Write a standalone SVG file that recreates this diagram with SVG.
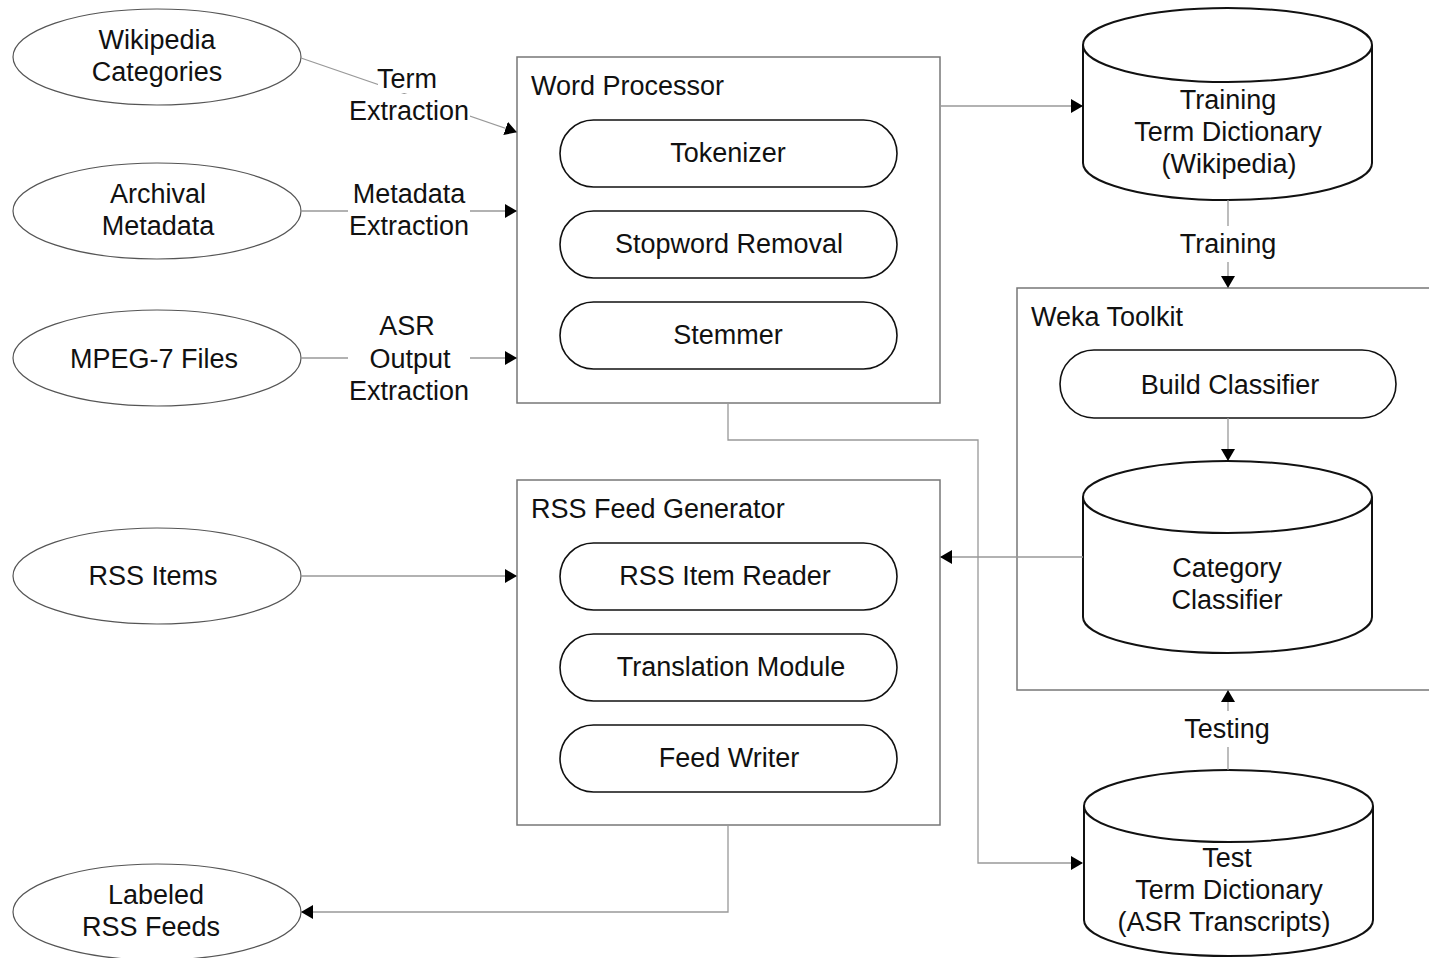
<svg xmlns="http://www.w3.org/2000/svg" width="1429" height="958" viewBox="0 0 1429 958">
<defs>
<style>
text{font-family:"Liberation Sans",Arial,sans-serif;font-size:27px;fill:#111;}
.c{text-anchor:middle;}
.ell{fill:#fff;stroke:#555;stroke-width:1.2;}
.box{fill:#fff;stroke:#777;stroke-width:1.5;}
.pill{fill:#fff;stroke:#111;stroke-width:1.6;}
.cyl{fill:#fff;stroke:#111;stroke-width:2;}
.con{fill:none;stroke:#999;stroke-width:1.3;}
.lbl{fill:#fff;stroke:none;}
</style>
<marker id="ah" markerWidth="12" markerHeight="14" refX="11" refY="7" orient="auto" markerUnits="userSpaceOnUse">
<path d="M0,0 L12,7 L0,14 Z" fill="#000"/>
</marker>
</defs>
<rect width="1429" height="958" fill="#fff"/>

<g id="wikipedia-categories">
<ellipse class="ell" cx="157" cy="57" rx="144" ry="48"/>
<text class="c" x="157" y="49">Wikipedia</text>
<text class="c" x="157" y="81">Categories</text>
</g>
<g id="archival-metadata">
<ellipse class="ell" cx="157" cy="211" rx="144" ry="48"/>
<text class="c" x="158" y="203">Archival</text>
<text class="c" x="158" y="235">Metadata</text>
</g>
<g id="mpeg7-files">
<ellipse class="ell" cx="157" cy="358" rx="144" ry="48"/>
<text class="c" x="154" y="368">MPEG-7 Files</text>
</g>
<g id="rss-items">
<ellipse class="ell" cx="157" cy="576" rx="144" ry="48"/>
<text class="c" x="153" y="585">RSS Items</text>
</g>
<g id="labeled-rss-feeds">
<ellipse class="ell" cx="157" cy="912" rx="144" ry="48"/>
<text class="c" x="156" y="904">Labeled</text>
<text class="c" x="151" y="936">RSS Feeds</text>
</g>

<g id="word-processor">
<rect class="box" x="517" y="57" width="423" height="346"/>
<text x="531" y="95">Word Processor</text>
<g id="tokenizer">
<rect class="pill" x="560" y="120" width="337" height="67" rx="33.5"/>
<text class="c" x="728" y="162">Tokenizer</text>
</g>
<g id="stopword-removal">
<rect class="pill" x="560" y="211" width="337" height="67" rx="33.5"/>
<text class="c" x="729" y="253">Stopword Removal</text>
</g>
<g id="stemmer">
<rect class="pill" x="560" y="302" width="337" height="67" rx="33.5"/>
<text class="c" x="728" y="344">Stemmer</text>
</g>
</g>

<g id="rss-feed-generator">
<rect class="box" x="517" y="480" width="423" height="345"/>
<text x="531" y="518">RSS Feed Generator</text>
<g id="rss-item-reader">
<rect class="pill" x="560" y="543" width="337" height="67" rx="33.5"/>
<text class="c" x="725" y="585">RSS Item Reader</text>
</g>
<g id="translation-module">
<rect class="pill" x="560" y="634" width="337" height="67" rx="33.5"/>
<text class="c" x="731" y="676">Translation Module</text>
</g>
<g id="feed-writer">
<rect class="pill" x="560" y="725" width="337" height="67" rx="33.5"/>
<text class="c" x="729" y="767">Feed Writer</text>
</g>
</g>

<g id="training-term-dictionary">
<path class="cyl" d="M1083,45 A144.5,37 0 0 1 1372,45 V163 A144.5,37 0 0 1 1083,163 Z"/>
<path class="cyl" fill="none" d="M1083,45 A144.5,37 0 0 0 1372,45"/>
<text class="c" x="1228" y="109">Training</text>
<text class="c" x="1228" y="141">Term Dictionary</text>
<text class="c" x="1229" y="173">(Wikipedia)</text>
</g>

<g id="weka-toolkit">
<rect class="box" x="1017" y="288" width="450" height="402"/>
<text x="1031" y="326">Weka Toolkit</text>
<g id="build-classifier">
<rect class="pill" x="1060" y="350" width="336" height="68" rx="34"/>
<text class="c" x="1230" y="394">Build Classifier</text>
</g>
<g id="category-classifier">
<path class="cyl" d="M1083,497 A144.5,36 0 0 1 1372,497 V617 A144.5,36 0 0 1 1083,617 Z"/>
<path class="cyl" fill="none" d="M1083,497 A144.5,36 0 0 0 1372,497"/>
<text class="c" x="1227" y="577">Category</text>
<text class="c" x="1227" y="609">Classifier</text>
</g>
</g>

<g id="test-term-dictionary">
<path class="cyl" d="M1084,806 A144.5,36 0 0 1 1373,806 V920 A144.5,36 0 0 1 1084,920 Z"/>
<path class="cyl" fill="none" d="M1084,806 A144.5,36 0 0 0 1373,806"/>
<text class="c" x="1227" y="867">Test</text>
<text class="c" x="1229" y="899">Term Dictionary</text>
<text class="c" x="1224" y="931">(ASR Transcripts)</text>
</g>

<g id="connectors">
<line class="con" x1="301" y1="58" x2="516" y2="132" marker-end="url(#ah)"/>
<line class="con" x1="301" y1="211" x2="516" y2="211" marker-end="url(#ah)"/>
<line class="con" x1="301" y1="358" x2="516" y2="358" marker-end="url(#ah)"/>
<line class="con" x1="301" y1="576" x2="516" y2="576" marker-end="url(#ah)"/>
<line class="con" x1="940" y1="106" x2="1082" y2="106" marker-end="url(#ah)"/>
<line class="con" x1="1228" y1="200" x2="1228" y2="287" marker-end="url(#ah)"/>
<line class="con" x1="1228" y1="418" x2="1228" y2="460" marker-end="url(#ah)"/>
<line class="con" x1="1083" y1="557" x2="941" y2="557" marker-end="url(#ah)"/>
<line class="con" x1="1228" y1="770" x2="1228" y2="691" marker-end="url(#ah)"/>
<polyline class="con" points="728,403 728,440 978,440 978,863 1082,863" marker-end="url(#ah)"/>
<polyline class="con" points="728,825 728,912 302,912" marker-end="url(#ah)"/>
<rect class="lbl" x="378" y="63" width="60" height="30"/>
<rect class="lbl" x="348" y="94" width="122" height="32"/>
<text class="c" x="407" y="88">Term</text>
<text class="c" x="409" y="120">Extraction</text>
<rect class="lbl" x="348" y="177" width="122" height="64"/>
<text class="c" x="409" y="203">Metadata</text>
<text class="c" x="409" y="235">Extraction</text>
<rect class="lbl" x="348" y="310" width="122" height="96"/>
<text class="c" x="407" y="335">ASR</text>
<text class="c" x="410" y="368">Output</text>
<text class="c" x="409" y="400">Extraction</text>
<rect class="lbl" x="1178" y="226" width="100" height="36"/>
<text class="c" x="1228" y="253">Training</text>
<rect class="lbl" x="1182" y="711" width="90" height="36" stroke="#ddd" stroke-dasharray="2,2"/>
<text class="c" x="1227" y="738">Testing</text>
</g>
</svg>
